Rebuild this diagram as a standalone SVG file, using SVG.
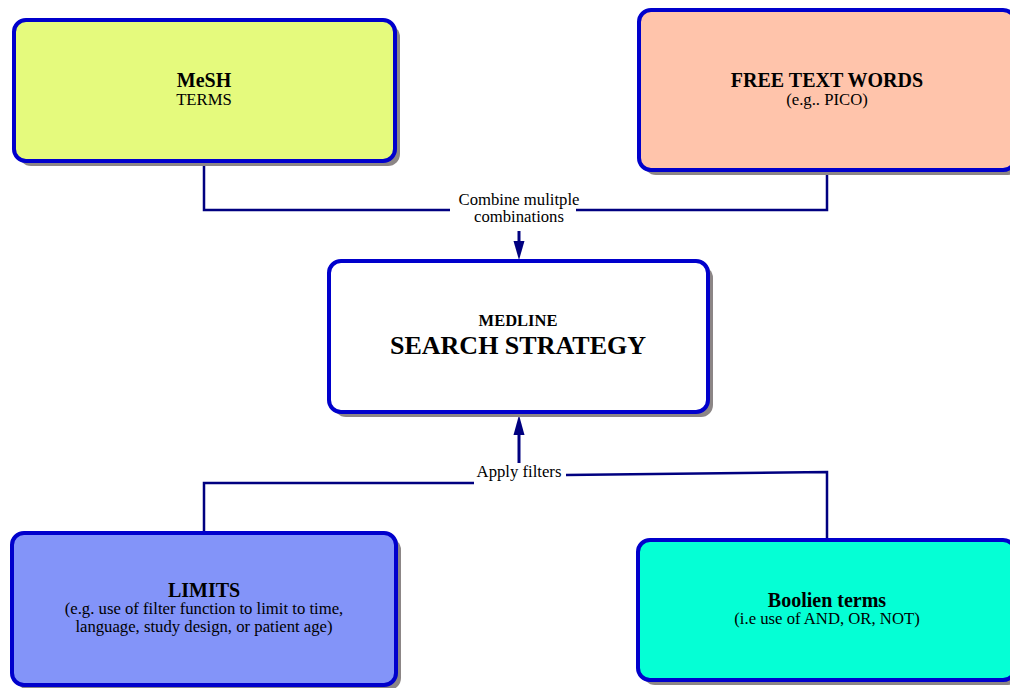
<svg xmlns="http://www.w3.org/2000/svg" width="1010" height="688" viewBox="0 0 1010 688">
<style>
.box{stroke:#0000cc;stroke-width:4}
.sh{fill:#8c8686}
.t{font-family:"Liberation Serif","Times New Roman",serif;text-anchor:middle;fill:#000}
.b{font-weight:bold}
.s{font-size:16.7px}
.h{font-size:20px;font-weight:bold}
.c{fill:none;stroke:#000080;stroke-width:2.5}
</style>
<rect width="1010" height="688" fill="#fff"/>
<g id="connectors">
<polyline class="c" points="204,163 204,210 450,210"/>
<polyline class="c" points="827,172 827,210 576,210"/>
<text class="t s" x="519" y="205">Combine mulitple</text>
<text class="t s" x="519" y="222">combinations</text>
<path d="M519,231 L519,242" stroke="#000080" stroke-width="3"/>
<polygon points="513.5,241 524.5,241 519,260" fill="#000080"/>
<polyline class="c" points="204,531 204,483 474,483"/>
<polyline class="c" points="827,538 827,472 566,475"/>
<text class="t s" x="519" y="477">Apply filters</text>
<path d="M519,463 L519,433" stroke="#000080" stroke-width="3"/>
<polygon points="513.5,435 524.5,435 519,415" fill="#000080"/>
</g>
<g id="mesh">
<rect class="sh" x="19" y="25" width="381" height="141" rx="12"/>
<rect class="box" x="14" y="20" width="381" height="141" rx="12" fill="#e5fa7d"/>
<text class="t h" x="204" y="87">MeSH</text>
<text class="t s" x="204" y="105">TERMS</text>
</g>
<g id="freetext">
<rect class="sh" x="644" y="15" width="376" height="160" rx="12"/>
<rect class="box" x="639" y="10" width="376" height="160" rx="12" fill="#ffc4ab"/>
<text class="t h" x="827" y="87">FREE TEXT WORDS</text>
<text class="t s" x="827" y="105">(e.g.. PICO)</text>
</g>
<g id="strategy">
<rect class="sh" x="334" y="266" width="379" height="151" rx="12"/>
<rect class="box" x="329" y="261" width="379" height="151" rx="12" fill="#fff"/>
<text class="t b" x="518" y="326" font-size="16.5">MEDLINE</text>
<text class="t b" x="518" y="354" font-size="26">SEARCH STRATEGY</text>
</g>
<g id="limits">
<rect class="sh" x="17" y="538" width="384" height="152" rx="12"/>
<rect class="box" x="12" y="533" width="384" height="152" rx="12" fill="#8394f9"/>
<text class="t h" x="204" y="597">LIMITS</text>
<text class="t s" x="204" y="614">(e.g. use of filter function to limit to time,</text>
<text class="t s" x="204" y="632">language, study design, or patient age)</text>
</g>
<g id="boolean">
<rect class="sh" x="643" y="545" width="377" height="140" rx="12"/>
<rect class="box" x="638" y="540" width="377" height="140" rx="12" fill="#05ffd5"/>
<text class="t h" x="827" y="607">Boolien terms</text>
<text class="t s" x="827" y="624">(i.e use of AND, OR, NOT)</text>
</g>
</svg>
